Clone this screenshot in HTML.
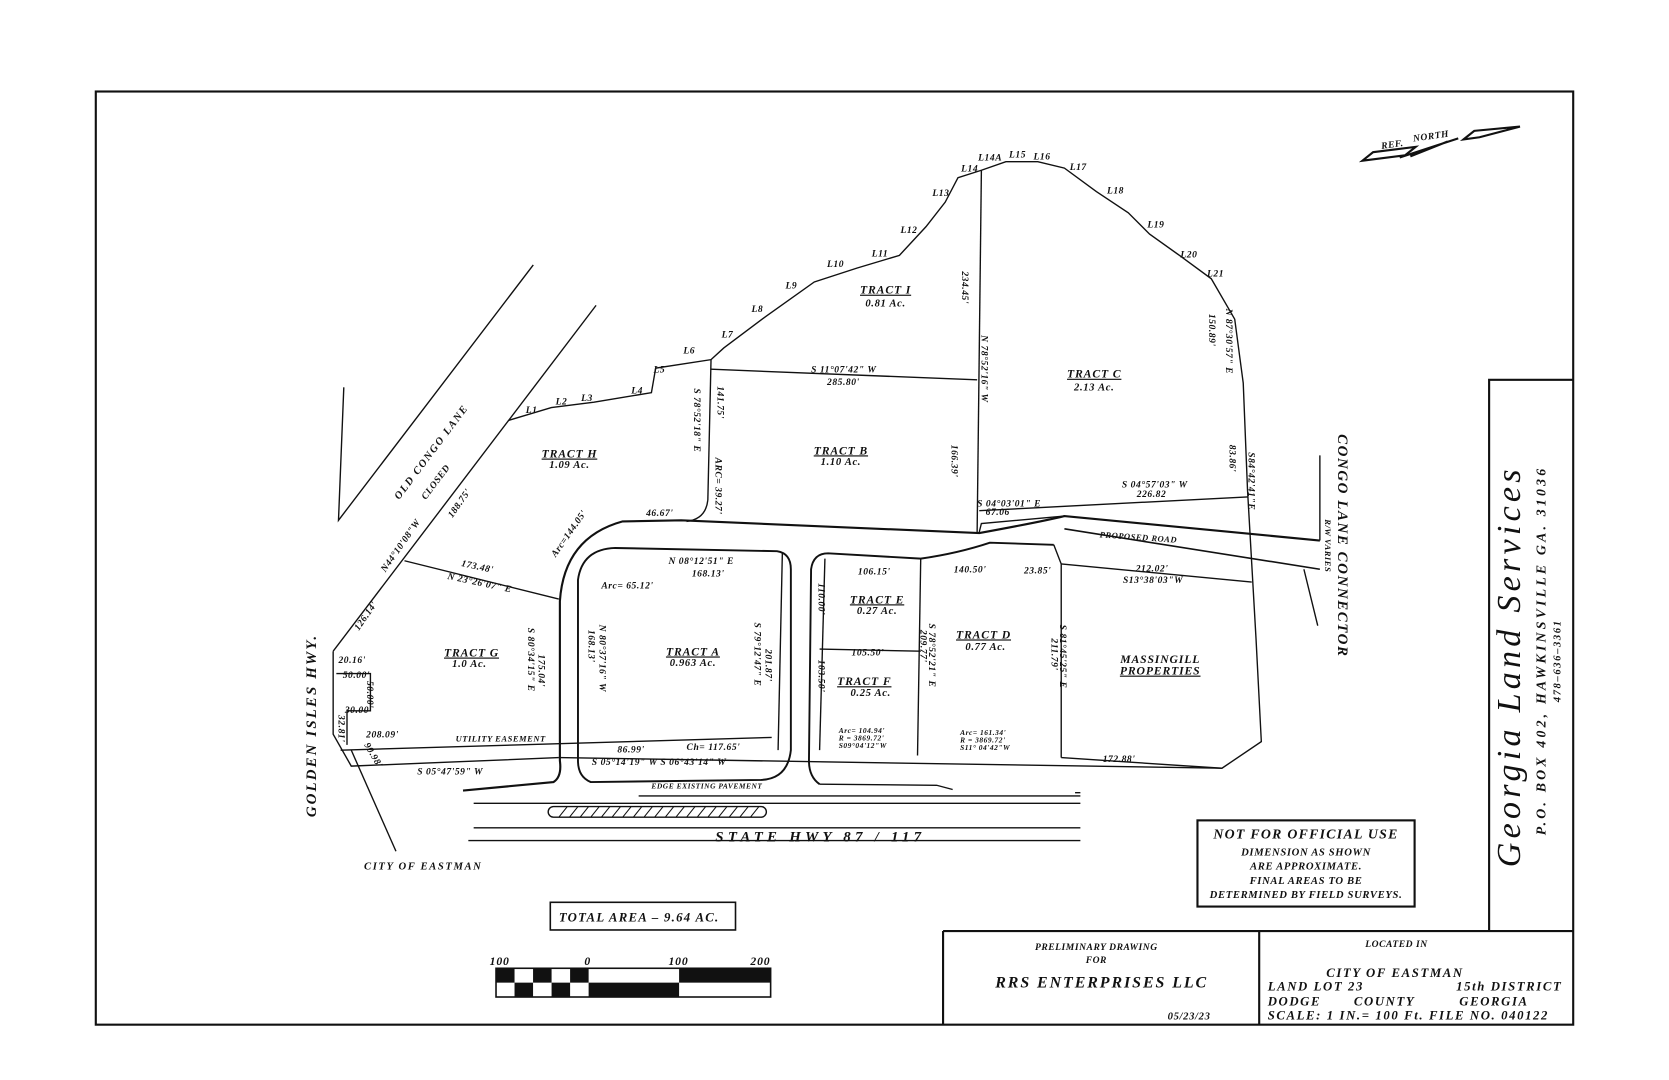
<!DOCTYPE html>
<html><head><meta charset="utf-8"><style>
html,body{margin:0;padding:0;background:#fff;}
svg{display:block;}
text{font-family:"Liberation Serif",serif;font-style:italic;fill:#111;}
.s{font-size:9px;font-weight:bold;letter-spacing:0.5px;}
.m{font-size:10px;font-weight:bold;letter-spacing:0.6px;}
.t{font-size:11px;font-weight:bold;letter-spacing:0.8px;}
</style></head><body>
<svg width="1669" height="1080" viewBox="0 0 1568 1015" preserveAspectRatio="none" xmlns="http://www.w3.org/2000/svg">
<rect width="1568" height="1015" fill="#fff"/>
<g fill="none" stroke="#111" stroke-width="1.3">
<rect x="90" y="86" width="1388" height="877" stroke-width="2"/>
<polyline points="1399,875 1399,357 1478,357" stroke-width="2"/>
<line x1="886" y1="875" x2="1478" y2="875" stroke-width="2"/>
<line x1="886" y1="875" x2="886" y2="963" stroke-width="2"/>
<line x1="1183" y1="875" x2="1183" y2="963" stroke-width="2"/>
<polyline points="323,364 318,489 501,249"/>
<line x1="313" y1="612" x2="560" y2="287"/>
<polyline points="478,395 518,383 558,378 612,369 616,346 668,338 680,327 720,297 765,265 805,252 845,240 870,213 888,190 900,167 922,160 945,152 975,152 1000,158 1030,180 1060,200 1080,220 1108,240 1138,262 1160,300 1168,360 1172,460 1180,600 1185,697 1148,722 997,712"/>
<polyline points="313,612 313,690 330,720 525,712"/>
<polyline points="316,633 348,633 348,668 326,668 326,700"/>
<line x1="330" y1="705" x2="372" y2="800"/>
<line x1="668" y1="338" x2="665" y2="470"/>
<path d="M665,470 Q663,488 645,490"/>
<line x1="668" y1="347" x2="918" y2="357"/>
<line x1="922" y1="160" x2="918" y2="500"/>
<line x1="380" y1="527" x2="525" y2="563"/>
<line x1="920" y1="480" x2="1172" y2="467"/>
<line x1="997" y1="530" x2="1176" y2="547"/>
<line x1="865" y1="525" x2="862" y2="710"/>
<line x1="997" y1="530" x2="997" y2="712"/>
<line x1="770" y1="610" x2="865" y2="612"/>
<line x1="320" y1="705" x2="725" y2="693"/>
<line x1="525" y1="712" x2="1148" y2="722"/>
<path d="M435,743 L520,735 Q528,730 526,715 L526,565 Q530,505 585,490 L640,489 L920,501 Q980,490 1000,485 L1240,508" stroke-width="2"/>
<path d="M1000,497 L1240,535" stroke-width="1.5"/>
<path d="M1240,428 L1240,508 M1225,535 L1238,588"/>
<path d="M920,500 L922,492 L1000,485"/>
<path d="M990,512 L997,530"/>
<path d="M555,735 Q543,730 543,715 L543,545 Q547,516 578,515 L730,518 Q743,520 743,535 L743,705 Q740,732 715,733 Z" stroke-width="1.8"/>
<line x1="735" y1="520" x2="731" y2="705"/>
<path d="M770,737 Q760,730 760,715 L762,535 Q764,520 778,520 L865,525 Q900,520 930,510 L990,512" stroke-width="1.8"/>
<line x1="775" y1="525" x2="770" y2="705"/>
<path d="M770,737 L880,738 L895,742"/>
<path d="M445,755 L1015,755 M445,778 L1015,778 M440,790 L1015,790 M1010,745 L1015,745 M600,748 L1015,748"/>
<rect x="515" y="758" width="205" height="10" rx="5"/>
</g>
<g stroke="#111" stroke-width="1">
<path d="M525,768 l8,-10 M535,768 l8,-10 M545,768 l8,-10 M555,768 l8,-10 M565,768 l8,-10 M575,768 l8,-10 M585,768 l8,-10 M595,768 l8,-10 M605,768 l8,-10 M615,768 l8,-10 M625,768 l8,-10 M635,768 l8,-10 M645,768 l8,-10 M655,768 l8,-10 M665,768 l8,-10 M675,768 l8,-10 M685,768 l8,-10 M695,768 l8,-10 M705,768 l8,-10"/>
</g>
<g fill="none" stroke="#111" stroke-width="2">
<polygon points="1280,151 1290,143 1330,138 1320,146"/>
<polygon points="1375,131 1385,123 1428,119 1390,129"/>
<path d="M1315,148 L1370,130 M1325,147 L1360,133"/>
</g>
<text x="1298" y="140" class="s" transform="rotate(-8 1298 140)">REF.</text>
<text x="1328" y="133" class="s" transform="rotate(-8 1328 133)">NORTH</text>
<rect x="517" y="848" width="174" height="26" fill="none" stroke="#111" stroke-width="1.5"/>
<text x="525" y="866" class="t" style="font-size:12px;letter-spacing:1.2px">TOTAL AREA – 9.64 AC.</text>
<rect x="1125" y="771" width="204" height="81" fill="none" stroke="#111" stroke-width="2"/>
<text x="1227" y="788" class="t" text-anchor="middle" style="font-size:13px;letter-spacing:1.2px">NOT FOR OFFICIAL USE</text>
<text x="1227" y="804" class="m" text-anchor="middle">DIMENSION AS SHOWN</text>
<text x="1227" y="817" class="m" text-anchor="middle">ARE APPROXIMATE.</text>
<text x="1227" y="831" class="m" text-anchor="middle">FINAL AREAS TO BE</text>
<text x="1227" y="844" class="m" text-anchor="middle">DETERMINED BY FIELD SURVEYS.</text>
<rect x="466" y="910" width="258" height="27" fill="#fff" stroke="#111" stroke-width="1.5"/>
<g fill="#111">
<rect x="466" y="910" width="17.4" height="13.5"/><rect x="500.8" y="910" width="17.4" height="13.5"/><rect x="535.6" y="910" width="17.4" height="13.5"/>
<rect x="483.4" y="923.5" width="17.4" height="13.5"/><rect x="518.2" y="923.5" width="17.4" height="13.5"/>
<rect x="553" y="923.5" width="85" height="13.5"/><rect x="638" y="910" width="86" height="13.5"/>
</g>
<text x="460" y="907" class="t">100</text><text x="549" y="907" class="t">0</text><text x="628" y="907" class="t">100</text><text x="705" y="907" class="t">200</text>
<text x="1030" y="893" class="s" text-anchor="middle">PRELIMINARY DRAWING</text>
<text x="1030" y="905" class="s" text-anchor="middle">FOR</text>
<text x="1035" y="928" class="t" text-anchor="middle" style="font-size:15px;letter-spacing:1.8px">RRS ENTERPRISES LLC</text>
<text x="1097" y="958" class="m">05/23/23</text>
<text x="1312" y="890" class="s" text-anchor="middle">LOCATED IN</text>
<g style="font-size:12px;font-weight:bold;letter-spacing:1.5px">
<text x="1246" y="918">CITY  OF     EASTMAN</text>
<text x="1191" y="931">LAND LOT 23</text><text x="1368" y="931">15th DISTRICT</text>
<text x="1191" y="945">DODGE</text><text x="1272" y="945">COUNTY</text><text x="1371" y="945">GEORGIA</text>
<text x="1191" y="958">SCALE: 1 IN.= 100 Ft. FILE NO. 040122</text>
</g>
<text transform="translate(1428,815) rotate(-90)" style="font-size:32px;letter-spacing:4px">Georgia  Land  Services</text>
<text transform="translate(1452,785) rotate(-90)" class="t" style="font-size:13px;letter-spacing:3px">P.O. BOX 402,  HAWKINSVILLE  GA.  31036</text>
<text transform="translate(1466,660) rotate(-90)" class="m" style="letter-spacing:1.5px">478–636–3361</text>
<text x="672" y="791" class="t" style="font-size:14px;letter-spacing:4px">STATE HWY 87 / 117</text>
<text transform="translate(297,768) rotate(-90)" class="t" style="font-size:14px;letter-spacing:2px">GOLDEN ISLES HWY.</text>
<text transform="translate(1257,408) rotate(90)" class="t" style="font-size:14px;letter-spacing:1.5px">CONGO LANE CONNECTOR</text>
<text transform="translate(1245,488) rotate(90)" class="s" style="font-size:8px">R/W VARIES</text>
<text transform="translate(375,470) rotate(-53)" class="m" style="letter-spacing:1.5px">OLD CONGO LANE</text>
<text transform="translate(400,470) rotate(-53)" class="s">CLOSED</text>
<text x="342" y="817" class="m" style="letter-spacing:1.5px">CITY OF EASTMAN</text>
<text x="612" y="741" class="s" style="font-size:7px">EDGE EXISTING PAVEMENT</text>
<text x="428" y="697" class="s" style="font-size:8px">UTILITY EASEMENT</text>
<text transform="translate(1033,505) rotate(4)" class="s" style="font-size:8px">PROPOSED ROAD</text>
<g class="t" text-anchor="middle">
<text x="832" y="276" text-decoration="underline">TRACT I</text><text x="832" y="288" class="m">0.81 Ac.</text>
<text x="1028" y="355" text-decoration="underline">TRACT C</text><text x="1028" y="367" class="m">2.13 Ac.</text>
<text x="790" y="427" text-decoration="underline">TRACT B</text><text x="790" y="437" class="m">1.10 Ac.</text>
<text x="535" y="430" text-decoration="underline">TRACT H</text><text x="535" y="440" class="m">1.09 Ac.</text>
<text x="443" y="617" text-decoration="underline">TRACT G</text><text x="441" y="627" class="m">1.0 Ac.</text>
<text x="651" y="616" text-decoration="underline">TRACT A</text><text x="651" y="626" class="m">0.963 Ac.</text>
<text x="824" y="567" text-decoration="underline">TRACT E</text><text x="824" y="577" class="m">0.27 Ac.</text>
<text x="812" y="644" text-decoration="underline">TRACT F</text><text x="818" y="654" class="m">0.25 Ac.</text>
<text x="924" y="600" text-decoration="underline">TRACT D</text><text x="926" y="611" class="m">0.77 Ac.</text>
<text x="1090" y="623">MASSINGILL</text><text x="1090" y="634" text-decoration="underline">PROPERTIES</text>
</g>
<g class="s">
<text x="762" y="350">S 11°07'42" W</text><text x="777" y="362">285.80'</text>
<text x="1054" y="458">S 04°57'03" W</text><text x="1068" y="467">226.82</text>
<text x="918" y="476">S 04°03'01"  E</text><text x="926" y="484">67.06</text>
<text x="607" y="485">46.67'</text>
<text x="628" y="530">N 08°12'51" E</text><text x="650" y="542">168.13'</text>
<text x="565" y="553">Arc= 65.12'</text>
<text x="1067" y="537">212.02'</text><text x="1055" y="548">S13°38'03"W</text>
<text x="806" y="540">106.15'</text><text x="896" y="538">140.50'</text><text x="962" y="539">23.85'</text>
<text x="800" y="616">105.50'</text>
<text x="420" y="544" transform="rotate(12 420 544)">N 23°26'07"  E</text>
<text x="433" y="532" transform="rotate(12 433 532)">173.48'</text>
<text x="318" y="623">20.16'</text><text x="322" y="637">50.00'</text><text x="324" y="670">30.00'</text>
<text x="344" y="693">208.09'</text><text x="392" y="728">S 05°47'59" W</text>
<text x="580" y="707">86.99'</text><text x="645" y="705">Ch= 117.65'</text>
<text x="556" y="719">S 05°14'19" W  S 06°43'14" W</text>
<text x="1036" y="716">172.88'</text>
<text x="788" y="689" style="font-size:7px">Arc= 104.94'</text><text x="788" y="696" style="font-size:7px">R =  3869.72'</text><text x="788" y="703" style="font-size:7px">S09°04'12"W</text>
<text x="902" y="691" style="font-size:7px">Arc= 161.34'</text><text x="902" y="698" style="font-size:7px">R =  3869.72'</text><text x="902" y="705" style="font-size:7px">S11° 04'42"W</text>
<text x="522" y="524" transform="rotate(-55 522 524)">Arc=144.05'</text>
<text x="362" y="538" transform="rotate(-55 362 538)">N44°10'08"W</text>
<text x="337" y="593" transform="rotate(-55 337 593)">126.14'</text>
<text x="425" y="487" transform="rotate(-55 425 487)">188.75'</text>
<text transform="translate(652,365) rotate(90)">S 78°52'18" E</text>
<text transform="translate(674,363) rotate(90)">141.75'</text>
<text transform="translate(672,430) rotate(90)">ARC= 39.27'</text>
<text transform="translate(904,255) rotate(90)">234.45'</text>
<text transform="translate(922,315) rotate(90)">N 78°52'16" W</text>
<text transform="translate(894,418) rotate(90)">166.39'</text>
<text transform="translate(1136,295) rotate(90)">150.89'</text>
<text transform="translate(1152,290) rotate(90)">N 87°30'57" E</text>
<text transform="translate(1155,418) rotate(90)">83.86'</text>
<text transform="translate(1173,425) rotate(90)">S84°42'41"E</text>
<text transform="translate(496,590) rotate(90)">S 80°34'15" E</text>
<text transform="translate(506,615) rotate(90)">175.04'</text>
<text transform="translate(563,587) rotate(90)">N 80°37'16" W</text>
<text transform="translate(553,592) rotate(90)">168.13'</text>
<text transform="translate(709,585) rotate(90)">S 79°12'47" E</text>
<text transform="translate(719,610) rotate(90)">201.87'</text>
<text transform="translate(769,548) rotate(90)">110.00'</text>
<text transform="translate(769,620) rotate(90)">103.50'</text>
<text transform="translate(873,586) rotate(90)">S 78°52'21" E</text>
<text transform="translate(865,592) rotate(90)">209.77'</text>
<text transform="translate(996,587) rotate(90)">S 81°45'25" E</text>
<text transform="translate(988,600) rotate(90)">211.79'</text>
<text transform="translate(345,640) rotate(90)">50.00'</text>
<text transform="translate(318,672) rotate(90)">32.81'</text>
<text transform="translate(342,700) rotate(60)">90.98'</text>
<text x="494" y="388">L1</text><text x="522" y="380">L2</text><text x="546" y="377">L3</text><text x="593" y="370">L4</text>
<text x="614" y="350">L5</text><text x="642" y="332">L6</text><text x="678" y="317">L7</text><text x="706" y="293">L8</text>
<text x="738" y="271">L9</text><text x="777" y="251">L10</text><text x="819" y="241">L11</text><text x="846" y="219">L12</text>
<text x="876" y="184">L13</text><text x="903" y="161">L14</text><text x="919" y="151">L14A</text><text x="948" y="148">L15</text>
<text x="971" y="150">L16</text><text x="1005" y="160">L17</text><text x="1040" y="182">L18</text><text x="1078" y="214">L19</text>
<text x="1109" y="242">L20</text><text x="1134" y="260">L21</text>
</g>
</svg>
</body></html>
